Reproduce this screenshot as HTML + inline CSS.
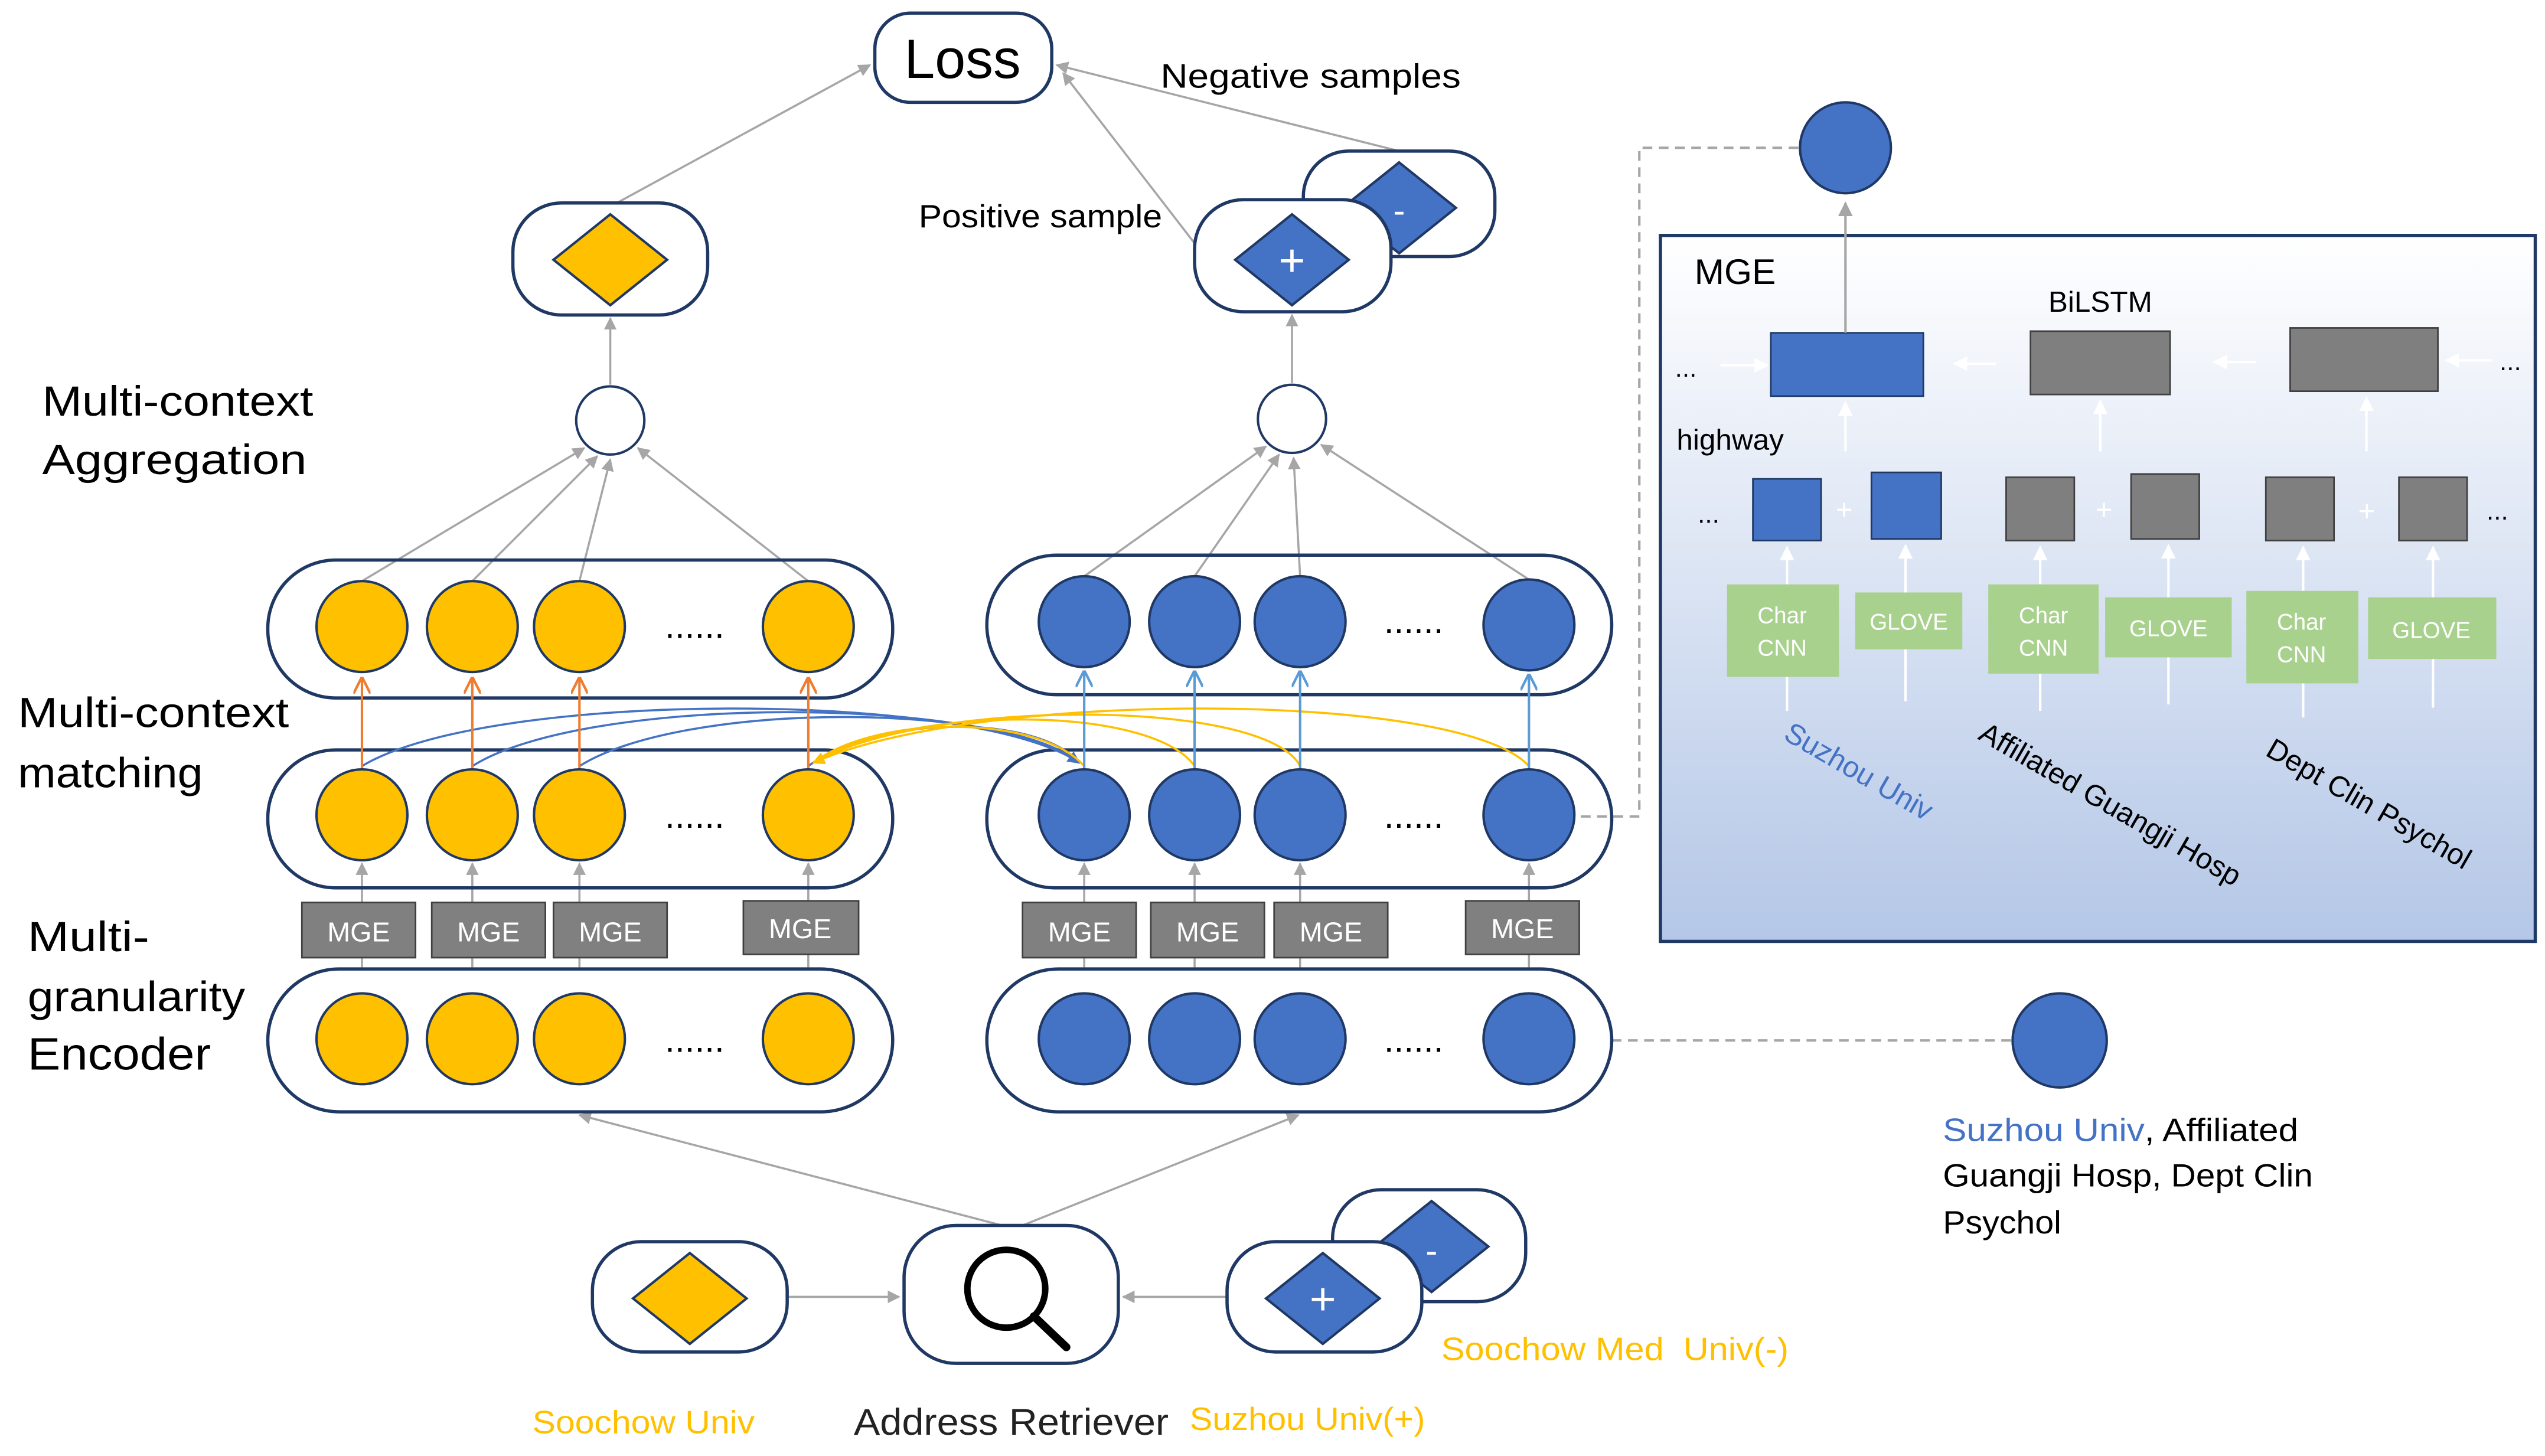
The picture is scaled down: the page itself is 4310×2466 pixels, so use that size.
<!DOCTYPE html>
<html><head><meta charset="utf-8"><style>
html,body{margin:0;padding:0;background:#fff;}
svg{display:block;}
text{font-family:"Liberation Sans",sans-serif;}
</style></head><body>
<svg width="4310" height="2466" viewBox="0 0 1568 897" xmlns="http://www.w3.org/2000/svg">
<defs>
<marker id="ag" viewBox="0 0 10 10" refX="9" refY="5" markerWidth="6" markerHeight="6" orient="auto"><path d="M0,0L10,5L0,10z" fill="#a6a6a6"/></marker>
<marker id="ao" viewBox="0 0 10 10" refX="9" refY="5" markerWidth="7" markerHeight="7" orient="auto"><path d="M0,0L10,5L0,10" fill="none" stroke="#ED7D31" stroke-width="1.5"/></marker>
<marker id="ab" viewBox="0 0 10 10" refX="9" refY="5" markerWidth="7" markerHeight="7" orient="auto"><path d="M0,0L10,5L0,10" fill="none" stroke="#5B9BD5" stroke-width="1.5"/></marker>
<marker id="abf" viewBox="0 0 10 10" refX="9" refY="5" markerWidth="6" markerHeight="6" orient="auto"><path d="M0,0L10,5L0,10z" fill="#4472C4"/></marker>
<marker id="ayf" viewBox="0 0 10 10" refX="9" refY="5" markerWidth="6" markerHeight="6" orient="auto"><path d="M0,0L10,5L0,10z" fill="#FFC000"/></marker>
<marker id="aw" viewBox="0 0 10 10" refX="9" refY="5" markerWidth="6" markerHeight="6" orient="auto"><path d="M0,0L10,5L0,10z" fill="#fff"/></marker>
<linearGradient id="pg" x1="0" y1="0" x2="0" y2="1"><stop offset="0" stop-color="#ffffff"/><stop offset="1" stop-color="#b4c7e7"/></linearGradient>
</defs>

<rect x="1023" y="145" width="539" height="435" fill="url(#pg)" stroke="#1F3864" stroke-width="2"/>
<text x="1044" y="175" font-size="22">MGE</text>
<text x="1262" y="192" font-size="18">BiLSTM</text>
<text x="1033" y="277" font-size="18">highway</text>
<rect x="1091" y="205" width="94" height="39" fill="#4472C4" stroke="#1F3864"/>
<rect x="1251" y="204" width="86" height="39" fill="#7f7f7f" stroke="#404040"/>
<rect x="1411" y="202" width="91" height="39" fill="#7f7f7f" stroke="#404040"/>
<text x="1032" y="232" font-size="16">...</text>
<text x="1540" y="228" font-size="16">...</text>
<g stroke="#fff" stroke-width="1.5" marker-end="url(#aw)">
<line x1="1060" y1="225" x2="1089" y2="225"/>
<line x1="1230" y1="224" x2="1204" y2="224"/>
<line x1="1390" y1="223" x2="1364" y2="223"/>
<line x1="1535" y1="222" x2="1507" y2="222"/>
<line x1="1137" y1="278" x2="1137" y2="248"/>
<line x1="1294" y1="278" x2="1294" y2="247"/>
<line x1="1458" y1="278" x2="1458" y2="245"/>
<line x1="1101" y1="360" x2="1101" y2="337"/>
<line x1="1174" y1="365" x2="1174" y2="336"/>
<line x1="1257" y1="360" x2="1257" y2="337"/>
<line x1="1336" y1="368" x2="1336" y2="336"/>
<line x1="1419" y1="364" x2="1419" y2="337"/>
<line x1="1499" y1="368" x2="1499" y2="337"/>
</g>
<g stroke="#fff" stroke-width="1.5">
<line x1="1101" y1="417" x2="1101" y2="438"/><line x1="1174" y1="400" x2="1174" y2="432"/>
<line x1="1257" y1="415" x2="1257" y2="438"/><line x1="1336" y1="405" x2="1336" y2="434"/>
<line x1="1419" y1="421" x2="1419" y2="442"/><line x1="1499" y1="406" x2="1499" y2="436"/>
</g>
<line x1="1137" y1="205" x2="1137" y2="125" stroke="#a6a6a6" stroke-width="1.5" marker-end="url(#ag)"/>
<text x="1046" y="322" font-size="16">...</text>
<text x="1532" y="320" font-size="16">...</text>
<rect x="1080" y="295" width="42" height="38" fill="#4472C4" stroke="#1F3864"/>
<rect x="1153" y="291" width="43" height="41" fill="#4472C4" stroke="#1F3864"/>
<rect x="1236" y="294" width="42" height="39" fill="#7f7f7f" stroke="#404040"/>
<rect x="1313" y="292" width="42" height="40" fill="#7f7f7f" stroke="#404040"/>
<rect x="1396" y="294" width="42" height="39" fill="#7f7f7f" stroke="#404040"/>
<rect x="1478" y="294" width="42" height="39" fill="#7f7f7f" stroke="#404040"/>
<g fill="#fff" font-size="18"><text x="1131" y="320">+</text><text x="1291" y="320">+</text><text x="1453" y="321">+</text></g>
<g fill="#a9d18e">
<rect x="1064" y="360" width="69" height="57"/><rect x="1143" y="365" width="66" height="35"/>
<rect x="1225" y="360" width="68" height="55"/><rect x="1297" y="368" width="78" height="37"/>
<rect x="1384" y="364" width="69" height="57"/><rect x="1459" y="368" width="79" height="38"/>
</g>
<g fill="#fff" font-size="14" text-anchor="middle">
<text x="1098" y="384">Char</text><text x="1098" y="404">CNN</text>
<text x="1176" y="388">GLOVE</text>
<text x="1259" y="384">Char</text><text x="1259" y="404">CNN</text>
<text x="1336" y="392">GLOVE</text>
<text x="1418" y="388">Char</text><text x="1418" y="408">CNN</text>
<text x="1498" y="393">GLOVE</text>
</g>
<text transform="translate(1098,455) rotate(30)" font-size="18" fill="#4472C4">Suzhou Univ</text>
<text transform="translate(1218,455) rotate(30)" font-size="18">Affiliated Guangji Hosp</text>
<text transform="translate(1395,465) rotate(30)" font-size="18">Dept Clin Psychol</text>

<g stroke="#a6a6a6" stroke-width="1.5" stroke-dasharray="6,4" fill="none">
<polyline points="1108,91 1010,91 1010,503 973,503"/>
<line x1="993" y1="641" x2="1240" y2="641"/>
</g>
<circle cx="1137" cy="91" r="28" fill="#4472C4" stroke="#1F3864" stroke-width="1.5"/>
<circle cx="1269" cy="641" r="29" fill="#4472C4" stroke="#1F3864" stroke-width="1.5"/>
<g font-size="20"><text x="1197" y="703" textLength="219" lengthAdjust="spacingAndGlyphs"><tspan fill="#4472C4">Suzhou Univ</tspan>, Affiliated</text>
<text x="1197" y="731" textLength="228" lengthAdjust="spacingAndGlyphs">Guangji Hosp, Dept Clin</text><text x="1197" y="760" textLength="73" lengthAdjust="spacingAndGlyphs">Psychol</text></g>

<g stroke="#a6a6a6" stroke-width="1.3" fill="none" marker-end="url(#ag)">
<line x1="380" y1="125" x2="536" y2="40"/>
<line x1="862" y1="93" x2="651" y2="40"/>
<line x1="740" y1="155" x2="655" y2="45"/>
<line x1="376" y1="237" x2="376" y2="196"/>
<line x1="796" y1="236" x2="796" y2="194"/>
<line x1="223" y1="358" x2="360" y2="276"/>
<line x1="291" y1="358" x2="368" y2="281"/>
<line x1="357" y1="358" x2="376" y2="283"/>
<line x1="498" y1="358" x2="393" y2="276"/>
<line x1="668" y1="355" x2="780" y2="275"/>
<line x1="736" y1="355" x2="788" y2="280"/>
<line x1="801" y1="355" x2="797" y2="282"/>
<line x1="942" y1="357" x2="814" y2="274"/>
<line x1="625" y1="757" x2="357" y2="687"/>
<line x1="625" y1="757" x2="800" y2="687"/>
<line x1="485" y1="799" x2="554" y2="799"/>
<line x1="756" y1="799" x2="692" y2="799"/>
<line x1="223" y1="596" x2="223" y2="532"/><line x1="291" y1="596" x2="291" y2="532"/>
<line x1="357" y1="596" x2="357" y2="532"/><line x1="498" y1="596" x2="498" y2="532"/>
<line x1="668" y1="596" x2="668" y2="532"/><line x1="736" y1="596" x2="736" y2="532"/>
<line x1="801" y1="596" x2="801" y2="532"/><line x1="942" y1="596" x2="942" y2="532"/>
</g>

<rect x="539" y="8" width="109" height="55" rx="22" fill="#fff" stroke="#1F3864" stroke-width="2"/>
<text x="593" y="48" font-size="34" text-anchor="middle">Loss</text>
<text x="715" y="54" font-size="21" textLength="185" lengthAdjust="spacingAndGlyphs">Negative samples</text>
<text x="566" y="140" font-size="20" textLength="150" lengthAdjust="spacingAndGlyphs">Positive sample</text>

<rect x="316" y="125" width="120" height="69" rx="30" fill="#fff" stroke="#1F3864" stroke-width="2"/>
<polygon points="376,132 411,160 376,188 341,160" fill="#FFC000" stroke="#1F3864" stroke-width="1.5"/>
<rect x="803" y="93" width="118" height="65" rx="28" fill="#fff" stroke="#1F3864" stroke-width="2"/>
<polygon points="862,100 897,128 862,156 827,128" fill="#4472C4" stroke="#1F3864" stroke-width="1.5"/>
<text x="862" y="137" font-size="22" fill="#fff" text-anchor="middle">-</text>
<rect x="736" y="123" width="121" height="69" rx="30" fill="#fff" stroke="#1F3864" stroke-width="2"/>
<polygon points="796,132 831,160 796,188 761,160" fill="#4472C4" stroke="#1F3864" stroke-width="1.5"/>
<text x="796" y="170" font-size="28" fill="#fff" text-anchor="middle">+</text>

<circle cx="376" cy="259" r="21" fill="#fff" stroke="#1F3864" stroke-width="1.5"/>
<circle cx="796" cy="258" r="21" fill="#fff" stroke="#1F3864" stroke-width="1.5"/>

<g font-size="26" lengthAdjust="spacingAndGlyphs">
<text x="26" y="256" textLength="167" lengthAdjust="spacingAndGlyphs">Multi-context</text><text x="26" y="292" textLength="163" lengthAdjust="spacingAndGlyphs">Aggregation</text>
<text x="11" y="448" textLength="167" lengthAdjust="spacingAndGlyphs">Multi-context</text><text x="11" y="485" textLength="114" lengthAdjust="spacingAndGlyphs">matching</text>
<text x="17" y="586" textLength="75" lengthAdjust="spacingAndGlyphs">Multi-</text><text x="17" y="623" textLength="134" lengthAdjust="spacingAndGlyphs">granularity</text><text x="17" y="659" font-size="28" textLength="113" lengthAdjust="spacingAndGlyphs">Encoder</text>
</g>

<g fill="none" stroke="#1F3864" stroke-width="2">
<rect x="165" y="345" width="385" height="85" rx="42"/>
<rect x="608" y="342" width="385" height="86" rx="43"/>
<rect x="165" y="462" width="385" height="85" rx="42"/>
<rect x="608" y="462" width="385" height="85" rx="42"/>
<rect x="165" y="597" width="385" height="88" rx="44"/>
<rect x="608" y="597" width="385" height="88" rx="44"/>
</g>

<g fill="none" stroke-width="1.3">
<path d="M223,472 C300,425 600,425 665,470" stroke="#4472C4" marker-end="url(#abf)"/>
<path d="M291,472 C360,428 610,428 665,470" stroke="#4472C4"/>
<path d="M357,472 C420,432 620,432 665,470" stroke="#4472C4"/>
<path d="M498,472 C540,440 640,440 665,470" stroke="#4472C4"/>
<path d="M942,472 C900,425 600,425 501,470" stroke="#FFC000" marker-end="url(#ayf)"/>
<path d="M801,472 C780,430 570,430 501,470" stroke="#FFC000"/>
<path d="M736,472 C710,434 560,434 501,470" stroke="#FFC000"/>
<path d="M668,472 C640,440 540,440 501,470" stroke="#FFC000"/>
</g>
<g stroke-width="1.5">
<g stroke="#ED7D31" marker-end="url(#ao)">
<line x1="223" y1="474" x2="223" y2="418"/><line x1="291" y1="474" x2="291" y2="418"/>
<line x1="357" y1="474" x2="357" y2="418"/><line x1="498" y1="474" x2="498" y2="418"/>
</g>
<g stroke="#5B9BD5" marker-end="url(#ab)">
<line x1="668" y1="474" x2="668" y2="414"/><line x1="736" y1="474" x2="736" y2="414"/>
<line x1="801" y1="474" x2="801" y2="414"/><line x1="942" y1="474" x2="942" y2="416"/>
</g>
</g>

<g stroke="#1F3864" stroke-width="1.5">
<g fill="#FFC000">
<circle cx="223" cy="386" r="28"/><circle cx="291" cy="386" r="28"/><circle cx="357" cy="386" r="28"/><circle cx="498" cy="386" r="28"/>
<circle cx="223" cy="502" r="28"/><circle cx="291" cy="502" r="28"/><circle cx="357" cy="502" r="28"/><circle cx="498" cy="502" r="28"/>
<circle cx="223" cy="640" r="28"/><circle cx="291" cy="640" r="28"/><circle cx="357" cy="640" r="28"/><circle cx="498" cy="640" r="28"/>
</g>
<g fill="#4472C4">
<circle cx="668" cy="383" r="28"/><circle cx="736" cy="383" r="28"/><circle cx="801" cy="383" r="28"/><circle cx="942" cy="385" r="28"/>
<circle cx="668" cy="502" r="28"/><circle cx="736" cy="502" r="28"/><circle cx="801" cy="502" r="28"/><circle cx="942" cy="502" r="28"/>
<circle cx="668" cy="640" r="28"/><circle cx="736" cy="640" r="28"/><circle cx="801" cy="640" r="28"/><circle cx="942" cy="640" r="28"/>
</g>
</g>
<g font-size="22" text-anchor="middle">
<text x="428" y="393">......</text><text x="871" y="390">......</text>
<text x="428" y="510">......</text><text x="871" y="510">......</text>
<text x="428" y="648">......</text><text x="871" y="648">......</text>
</g>

<g fill="#808080" stroke="#404040" stroke-width="1">
<rect x="186" y="556" width="70" height="34"/><rect x="266" y="556" width="70" height="34"/>
<rect x="341" y="556" width="70" height="34"/><rect x="458" y="555" width="71" height="33"/>
<rect x="630" y="556" width="70" height="34"/><rect x="709" y="556" width="70" height="34"/>
<rect x="785" y="556" width="70" height="34"/><rect x="903" y="555" width="70" height="33"/>
</g>
<g fill="#fff" font-size="17" text-anchor="middle">
<text x="221" y="580">MGE</text><text x="301" y="580">MGE</text><text x="376" y="580">MGE</text><text x="493" y="578">MGE</text>
<text x="665" y="580">MGE</text><text x="744" y="580">MGE</text><text x="820" y="580">MGE</text><text x="938" y="578">MGE</text>
</g>

<rect x="365" y="765" width="120" height="68" rx="30" fill="#fff" stroke="#1F3864" stroke-width="2"/>
<polygon points="425,772 460,800 425,828 390,800" fill="#FFC000" stroke="#1F3864" stroke-width="1.5"/>
<rect x="557" y="755" width="132" height="85" rx="32" fill="#fff" stroke="#1F3864" stroke-width="2"/>
<circle cx="620" cy="794" r="24" fill="none" stroke="#000" stroke-width="4"/>
<line x1="637" y1="811" x2="657" y2="830" stroke="#000" stroke-width="5" stroke-linecap="round"/>
<rect x="821" y="733" width="119" height="69" rx="30" fill="#fff" stroke="#1F3864" stroke-width="2"/>
<polygon points="882,740 917,768 882,796 847,768" fill="#4472C4" stroke="#1F3864" stroke-width="1.5"/>
<text x="882" y="778" font-size="22" fill="#fff" text-anchor="middle">-</text>
<rect x="756" y="765" width="120" height="68" rx="30" fill="#fff" stroke="#1F3864" stroke-width="2"/>
<polygon points="815,772 850,800 815,828 780,800" fill="#4472C4" stroke="#1F3864" stroke-width="1.5"/>
<text x="815" y="810" font-size="28" fill="#fff" text-anchor="middle">+</text>

<text x="328" y="883" font-size="20" fill="#FFC000" textLength="137" lengthAdjust="spacingAndGlyphs">Soochow Univ</text>
<text x="526" y="884" font-size="23" fill="#222" textLength="194" lengthAdjust="spacingAndGlyphs">Address Retriever</text>
<text x="733" y="881" font-size="20" fill="#FFC000" textLength="145" lengthAdjust="spacingAndGlyphs">Suzhou Univ(+)</text>
<text x="888" y="838" font-size="20" fill="#FFC000" xml:space="preserve" textLength="214" lengthAdjust="spacingAndGlyphs">Soochow Med  Univ(-)</text>
</svg>
</body></html>
